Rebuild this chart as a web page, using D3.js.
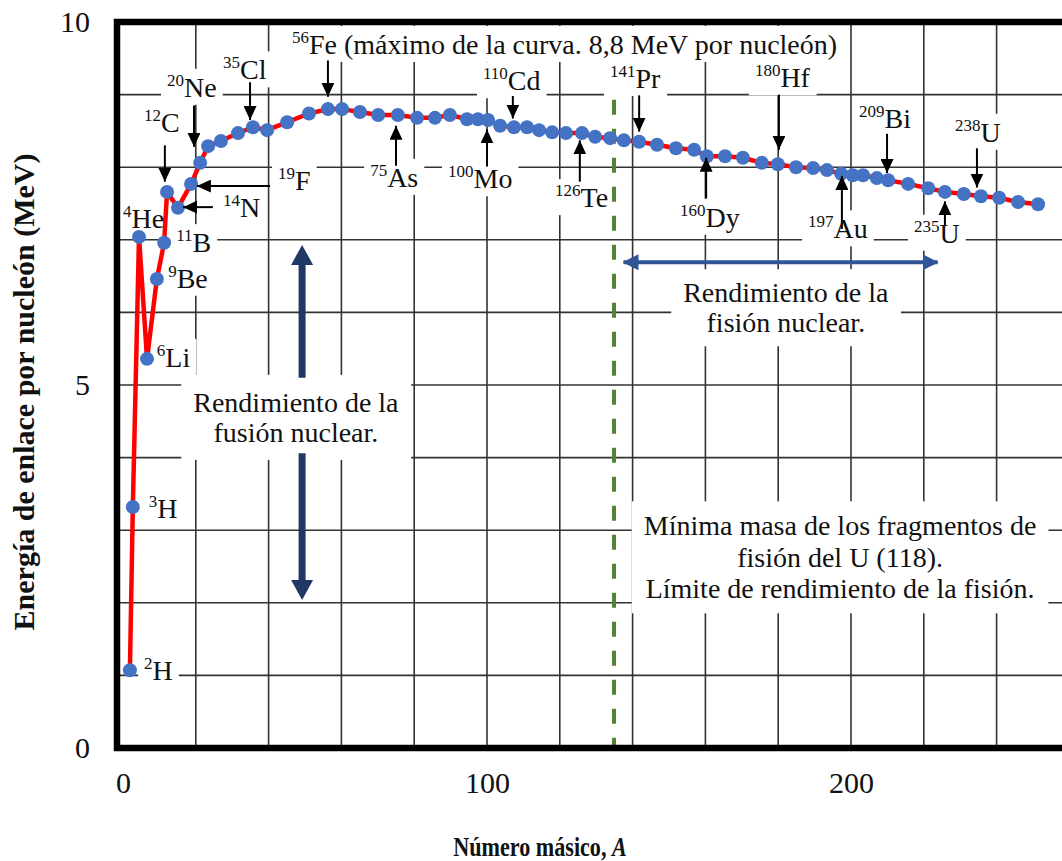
<!DOCTYPE html>
<html>
<head>
<meta charset="utf-8">
<script src="https://cdn.jsdelivr.net/npm/d3@7"></script>
<style>
  body { margin: 0; background: #fff; }
  svg, text { font-family: "Liberation Serif", "Times New Roman", serif; }
  text { fill: #111; }
</style>
</head>
<body>
<div id="chart"></div>
<script>
// mass number A of each point on the curve
var massNumber = [1.9, 2.7, 4.4, 6.6, 9.3, 11.3, 12.1, 15.1, 18.7, 21.2,
  23.4, 26.9, 31.6, 35.7, 39.6, 45.1, 51.1, 56.3, 60.2, 65.1,
  70.1, 75.5, 80.8, 85.7, 89.8, 94.5, 97.5, 100.3, 103.6, 107.4,
  111.0, 114.3, 117.9, 121.7, 126.1, 129.7, 133.8, 137.6, 141.8, 146.7,
  151.9, 156.9, 160.4, 165.4, 170.3, 175.5, 179.9, 184.9, 189.6, 193.4,
  197.3, 200.5, 203.3, 207.1, 210.2, 215.7, 221.2, 225.8, 231.0, 235.7,
  240.7, 245.9, 251.4];
// binding energy per nucleon (MeV)
var bindingEnergy = [1.07, 3.32, 7.04, 5.36, 6.46, 6.96, 7.66, 7.44, 7.77, 8.06,
  8.29, 8.36, 8.47, 8.55, 8.51, 8.62, 8.74, 8.80, 8.80, 8.76,
  8.72, 8.72, 8.68, 8.68, 8.72, 8.66, 8.66, 8.65, 8.57, 8.55,
  8.55, 8.51, 8.48, 8.47, 8.47, 8.42, 8.40, 8.37, 8.35, 8.31,
  8.26, 8.24, 8.15, 8.15, 8.13, 8.06, 8.04, 8.00, 7.99, 7.96,
  7.91, 7.89, 7.89, 7.85, 7.82, 7.77, 7.71, 7.66, 7.63, 7.60,
  7.58, 7.52, 7.49];

var xTickValues = [0, 100, 200];
var yTickValues = [0, 5, 10];
var xGridValues = [20, 40, 60, 80, 100, 120, 140, 160, 180, 200, 220, 240, 260];
var yGridValues = [1, 2, 3, 4, 5, 6, 7, 8, 9];

var fissionLimitA = 134.9;

// isotope labels: superscript, symbol, label anchor (A, MeV), optional arrow [A1, E1, A2, E2]
var isotopes = [
  { sup: "2", sym: "H", lx: 5.8, ly: 0.94 },
  { sup: "3", sym: "H", lx: 7.1, ly: 3.17 },
  { sup: "6", sym: "Li", lx: 9.3, ly: 5.25 },
  { sup: "9", sym: "Be", lx: 12.4, ly: 6.34 },
  { sup: "11", sym: "B", lx: 14.6, ly: 6.83 },
  { sup: "4", sym: "He", lx: 0, ly: 7.16 },
  { sup: "12", sym: "C", lx: 5.8, ly: 8.49, arrow: [11.5, 8.30, 11.5, 7.80] },
  { sup: "20", sym: "Ne", lx: 12.1, ly: 8.97, arrow: [19.5, 8.85, 19.5, 8.28] },
  { sup: "35", sym: "Cl", lx: 27.5, ly: 9.21, arrow: [34.9, 9.17, 34.9, 8.65] },
  { sup: "56", sym: "Fe (máximo de la curva. 8,8 MeV por nucleón)", lx: 46.4, ly: 9.56, arrow: [56.3, 9.47, 56.3, 8.97] },
  { sup: "19", sym: "F", lx: 42.6, ly: 7.69, arrow: [40.4, 7.74, 20.3, 7.74] },
  { sup: "14", sym: "N", lx: 27.5, ly: 7.31, arrow: [24.7, 7.45, 16.5, 7.45] },
  { sup: "75", sym: "As", lx: 67.9, ly: 7.73, arrow: [75.0, 8.02, 75.0, 8.57] },
  { sup: "100", sym: "Mo", lx: 89.3, ly: 7.71, arrow: [100, 8.01, 100, 8.52] },
  { sup: "110", sym: "Cd", lx: 98.9, ly: 9.06, arrow: [107.1, 8.98, 107.1, 8.67] },
  { sup: "126", sym: "Te", lx: 118.7, ly: 7.45, arrow: [125.5, 7.80, 125.5, 8.37] },
  { sup: "141", sym: "Pr", lx: 133.8, ly: 9.09, arrow: [141.8, 8.99, 141.8, 8.49] },
  { sup: "160", sym: "Dy", lx: 153, ly: 7.18, arrow: [160.2, 7.57, 160.2, 8.13] },
  { sup: "180", sym: "Hf", lx: 173.6, ly: 9.10, arrow: [180.2, 9.00, 180.2, 8.24] },
  { sup: "197", sym: "Au", lx: 188.2, ly: 7.02, arrow: [197.5, 7.15, 197.5, 7.88] },
  { sup: "209", sym: "Bi", lx: 202.2, ly: 8.54, arrow: [209.9, 8.46, 209.9, 7.92] },
  { sup: "235", sym: "U", lx: 217.3, ly: 6.96, arrow: [225.8, 7.20, 225.8, 7.53] },
  { sup: "238", sym: "U", lx: 228.6, ly: 8.35, arrow: [234.6, 8.26, 234.6, 7.72] }
];

var fusionText = ["Rendimiento de la", "fusión nuclear."];
var fissionText = ["Rendimiento de la", "fisión nuclear."];
var limitText = ["Mínima masa de los fragmentos de", "fisión del U (118).", "Límite de rendimiento de la fisión."];

var width = 1062, height = 861;

var x = d3.scaleLinear().domain([0, 260]).range([123, 123 + 260 * 3.64]);
var y = d3.scaleLinear().domain([0, 10]).range([748, 22]);

var svg = d3.select("#chart").append("svg")
  .attr("width", width)
  .attr("height", height)
  .style("font-family", "'Liberation Serif', 'Times New Roman', serif");

var defs = svg.append("defs");
defs.append("marker")
  .attr("id", "head-black")
  .attr("markerUnits", "userSpaceOnUse")
  .attr("markerWidth", 14).attr("markerHeight", 13)
  .attr("refX", 14).attr("refY", 6.5)
  .attr("orient", "auto")
  .append("path").attr("d", "M0,0L14,6.5L0,13Z").attr("fill", "#000");
defs.append("marker")
  .attr("id", "head-blue")
  .attr("markerUnits", "userSpaceOnUse")
  .attr("markerWidth", 16).attr("markerHeight", 16)
  .attr("refX", 15).attr("refY", 8)
  .attr("orient", "auto-start-reverse")
  .append("path").attr("d", "M0,0L16,8L0,16Z").attr("fill", "#2f5597");

var frameLeft = x(0) - 6;

var gGrid = svg.append("g");
var gBoxes = svg.append("g");
var gMarks = svg.append("g");
var gText = svg.append("g");

// grid
gGrid.selectAll("line.v").data(xGridValues).enter().append("line")
  .attr("x1", d => x(d)).attr("x2", d => x(d))
  .attr("y1", y(0)).attr("y2", y(10))
  .attr("stroke", "#333").attr("stroke-width", 1.6);
gGrid.selectAll("line.h").data(yGridValues).enter().append("line")
  .attr("x1", frameLeft).attr("x2", x(260))
  .attr("y1", d => y(d)).attr("y2", d => y(d))
  .attr("stroke", "#333").attr("stroke-width", 1.6);

// white box behind a text so the grid breaks around it
function boxed(node, padX, padY) {
  var b = node.getBBox();
  gBoxes.append("rect")
    .attr("x", b.x - padX).attr("y", b.y - padY)
    .attr("width", b.width + 2 * padX).attr("height", b.height + 2 * padY)
    .attr("fill", "#fff");
}

function textBlock(lines, cx, by, lineGap, padX, padY) {
  var t = gText.append("text")
    .attr("text-anchor", "middle")
    .style("font-size", "28px");
  lines.forEach(function(l, i) {
    t.append("tspan").attr("x", cx).attr("y", by + i * lineGap).text(l);
  });
  boxed(t.node(), padX, padY);
}

// isotope labels
isotopes.forEach(function(d) {
  var t = gText.append("text")
    .attr("x", x(d.lx)).attr("y", y(d.ly));
  t.append("tspan").style("font-size", "17px").attr("dy", -11).text(d.sup);
  t.append("tspan").style("font-size", "28px").attr("dy", 11).text(d.sym);
  boxed(t.node(), 6, 2);
});

textBlock(fusionText, x(47.5), y(4.63), 30, 12, 12);
textBlock(fissionText, x(182.1), y(6.14), 30, 12, 8);
textBlock(limitText, x(197.0), y(2.93), 31.5, 12, 9);

// fission limit line
gMarks.append("line")
  .attr("x1", x(fissionLimitA)).attr("x2", x(fissionLimitA))
  .attr("y1", y(8.93)).attr("y2", y(0))
  .attr("stroke", "#548235").attr("stroke-width", 4)
  .attr("stroke-dasharray", "15,14");

// curve
var line = d3.line()
  .x((d, i) => x(massNumber[i]))
  .y(d => y(d));
gMarks.append("path")
  .datum(bindingEnergy)
  .attr("d", line)
  .attr("fill", "none")
  .attr("stroke", "#ff0000")
  .attr("stroke-width", 4.5)
  .attr("stroke-linejoin", "round");

gMarks.selectAll("circle").data(bindingEnergy).enter().append("circle")
  .attr("cx", (d, i) => x(massNumber[i]))
  .attr("cy", d => y(d))
  .attr("r", 7)
  .attr("fill", "#4472c4");

// black arrows
isotopes.filter(d => d.arrow).forEach(function(d) {
  var a = d.arrow;
  gMarks.append("line")
    .attr("x1", x(a[0])).attr("y1", y(a[1]))
    .attr("x2", x(a[2])).attr("y2", y(a[3]))
    .attr("stroke", "#000").attr("stroke-width", 2)
    .attr("marker-end", "url(#head-black)");
});

// fusion arrows (navy)
function bigArrow(xa, e1, e2) {
  var px = x(xa), p1 = y(e1), p2 = y(e2);
  var dir = p2 > p1 ? 1 : -1;
  var headLen = 20, headW = 11, shaft = 3.5;
  var base = p2 - dir * headLen;
  var pts = [[px - shaft, p1], [px + shaft, p1], [px + shaft, base], [px + headW, base],
    [px, p2], [px - headW, base], [px - shaft, base]];
  gMarks.append("path")
    .attr("d", "M" + pts.join("L") + "Z")
    .attr("fill", "#203864");
}
bigArrow(49.2, 5.10, 6.93);
bigArrow(49.2, 4.06, 2.04);

// fission double arrow
gMarks.append("line")
  .attr("x1", x(137.5)).attr("x2", x(223.8))
  .attr("y1", y(6.69)).attr("y2", y(6.69))
  .attr("stroke", "#2f5597").attr("stroke-width", 4)
  .attr("marker-start", "url(#head-blue)")
  .attr("marker-end", "url(#head-blue)");

// frame
svg.append("path")
  .attr("d", "M" + frameLeft + "," + y(0) + "V" + y(10) + "H" + (x(260) + 6) + "V" + y(0) + "Z")
  .attr("fill", "none").attr("stroke", "#000").attr("stroke-width", 6.5);

// axes
var yAxis = svg.append("g")
  .attr("transform", "translate(" + frameLeft + ",0)")
  .call(d3.axisLeft(y).tickValues(yTickValues).tickSize(0).tickPadding(27));
var xAxis = svg.append("g")
  .attr("transform", "translate(0," + y(0) + ")")
  .call(d3.axisBottom(x).tickValues(xTickValues).tickSize(0).tickPadding(24));
[yAxis, xAxis].forEach(function(g) {
  g.attr("font-family", null);
  g.select(".domain").remove();
  g.selectAll("text")
    .style("font-family", "'Liberation Serif', 'Times New Roman', serif")
    .style("font-size", "30px")
    .attr("fill", "#111");
});

// axis titles
svg.append("text")
  .attr("transform", "translate(34,392) rotate(-90)")
  .attr("text-anchor", "middle")
  .style("font-size", "30px")
  .style("font-weight", "bold")
  .text("Energía de enlace por nucleón (MeV)");

// the x title is set in a narrow, condensed bold face
var xt = svg.append("text")
  .attr("transform", "translate(540,856) scale(0.82,1)")
  .attr("text-anchor", "middle")
  .style("font-size", "27px")
  .style("font-weight", "bold");
xt.append("tspan").text("Número másico, ");
xt.append("tspan").style("font-style", "italic").text("A");
</script>
</body>
</html>
